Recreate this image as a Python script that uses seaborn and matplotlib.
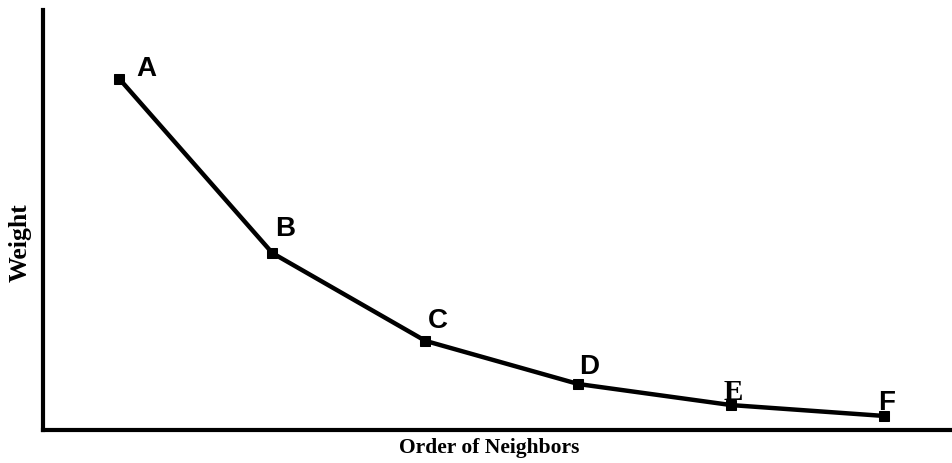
import matplotlib
matplotlib.use("Agg")
import matplotlib.pyplot as plt
import seaborn as sns
import pandas as pd

labels = ["A", "B", "C", "D", "E", "F"]
order = [1, 2, 3, 4, 5, 6]
weight = [1.0, 0.504, 0.254, 0.131, 0.071, 0.040]

sns.set_theme(style="white")
plt.rcParams['font.family'] = ['Liberation Sans', 'DejaVu Sans']
plt.rcParams['text.color'] = 'black'
plt.rcParams['axes.labelcolor'] = 'black'

df = pd.DataFrame({"order": order, "weight": weight, "label": labels})

fig = plt.figure(figsize=(9.53, 4.63), dpi=100)
ax = fig.add_axes([43/953, 33/463, 1 - 43/953, 420/463])
sns.lineplot(data=df, x="order", y="weight", ax=ax, color="black", linewidth=3.2,
             marker="s", markersize=6.5, markeredgecolor="black", markerfacecolor="black")

offsets = {"A": (27, 10), "B": (13, 24), "C": (13, 20), "D": (11, 17), "E": (2, 13), "F": (2, 13)}
for lab, xv, yv in zip(labels, order, weight):
    dx, dy = offsets[lab]
    if lab == "E":
        fam, fs = ['Liberation Serif'], 21
    else:
        fam, fs = ['Liberation Sans'], 20
    ax.annotate(lab, (xv, yv), xytext=(dx, dy), textcoords='offset pixels',
                ha='center', va='center', fontsize=fs, fontweight='bold', family=fam,
                color='black')

ax.set_xlim(0.5, 6.45)
ax.set_ylim(0, 420/351)
ax.set_xticks([])
ax.set_yticks([])
for s in ["top", "right"]:
    ax.spines[s].set_visible(False)
for s in ["left", "bottom"]:
    ax.spines[s].set_linewidth(3)
    ax.spines[s].set_color("black")

ax.set_xlabel("Order of Neighbors", fontsize=15.5, fontweight='bold', family=['Liberation Serif'], va='center')
ax.set_ylabel("Weight", fontsize=18.5, fontweight='bold', family=['Liberation Serif'], va='center')
ax.xaxis.set_label_coords((489 - 43) / 910, -(448 - 430) / 420)
ax.yaxis.set_label_coords((20 - 43) / 910, (430 - 243) / 420)

fig.savefig("out.png", dpi=100)
